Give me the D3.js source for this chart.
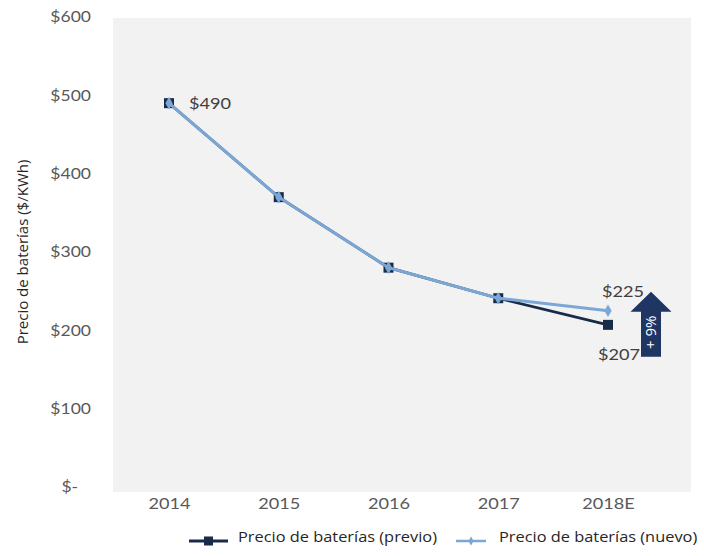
<!DOCTYPE html>
<html>
<head>
<meta charset="utf-8">
<script src="https://cdn.jsdelivr.net/npm/d3@7"></script>
<style>
  html, body { margin: 0; padding: 0; background: #fff; }
  svg { display: block; font-family: "Open Sans", "Noto Sans", sans-serif; }
</style>
</head>
<body>
<svg id="chart" width="704" height="556"></svg>
<script>
// Battery pack price, USD per kWh
const years = ["2014", "2015", "2016", "2017", "2018E"];
const previo = [490, 370, 280, 241, 207];
const nuevo  = [490, 370, 280, 241, 225];
const yTicks = [0, 100, 200, 300, 400, 500, 600];
const seriesNames = ["Precio de baterías (previo)", "Precio de baterías (nuevo)"];
const yTitle = "Precio de baterías ($/KWh)";
const changeLabel = "+ 9%";

// horizontal text is drawn slightly widened
const STRETCH = "scale(1.17,1)";

const svg = d3.select("#chart");

const x = d3.scalePoint().domain(years).range([169, 608]);
const y = d3.scaleLinear().domain([0, 600]).range([487, 17]);

// plot background
svg.append("rect")
  .attr("x", 113).attr("y", 18)
  .attr("width", 578).attr("height", 474)
  .attr("fill", "#f2f2f2");

// y axis labels
const yAxis = svg.append("g")
  .attr("transform", "translate(91,0)")
  .call(d3.axisLeft(y).tickValues(yTicks).tickSize(0).tickPadding(0)
    .tickFormat(d => d === 0 ? "$-" : "$" + d));
yAxis.select(".domain").remove();
yAxis.selectAll("text")
  .attr("fill", "#595959").style("font-size", "15px")
  .style("font-family", "Lato, 'Open Sans', sans-serif")
  .attr("dx", d => d === 0 ? -11 : 0)
  .attr("transform", STRETCH);

// x axis labels
const xAxis = svg.append("g")
  .attr("transform", "translate(0,493)")
  .call(d3.axisBottom(x).tickSize(0).tickPadding(5));
xAxis.select(".domain").remove();
xAxis.selectAll("text")
  .attr("fill", "#595959").style("font-size", "15.5px")
  .style("font-family", "Lato, 'Open Sans', sans-serif")
  .attr("transform", STRETCH);

// y axis title
svg.append("text")
  .attr("transform", "translate(28,252) rotate(-90)")
  .attr("text-anchor", "middle")
  .attr("fill", "#262626")
  .style("font-size", "15px")
  .text(yTitle);

const line = d3.line().x((d, i) => x(years[i])).y(d => y(d));

const darkCol = "#1a2b49";
const lightCol = "#7ba7d7";

// previous estimate
svg.append("path").datum(previo)
  .attr("d", line).attr("fill", "none")
  .attr("stroke", darkCol).attr("stroke-width", 2.7);
svg.selectAll(".sq").data(previo).join("rect")
  .attr("x", (d, i) => x(years[i]) - 5)
  .attr("y", d => y(d) - 5)
  .attr("width", 10).attr("height", 10)
  .attr("fill", darkCol);

// new estimate
svg.append("path").datum(nuevo)
  .attr("d", line).attr("fill", "none")
  .attr("stroke", lightCol).attr("stroke-width", 3);
const diamond = d3.symbol().type(d3.symbolDiamond).size(46);
svg.selectAll(".dm").data(nuevo).join("path")
  .attr("transform", (d, i) => `translate(${x(years[i])},${y(d)})`)
  .attr("d", diamond)
  .attr("fill", lightCol);

// value labels
const lbl = (tx, ty, t) => svg.append("text")
  .attr("transform", `translate(${tx},${ty}) ${STRETCH}`)
  .attr("fill", "#404040")
  .style("font-size", "15.5px")
  .style("font-family", "Lato, 'Open Sans', sans-serif")
  .text(t);
lbl(x("2014") + 20, y(previo[0]) + 6, "$" + previo[0]);
lbl(x("2018E") - 6, y(nuevo[4]) - 14, "$" + nuevo[4]);
lbl(x("2018E") - 10, y(previo[4]) + 35, "$" + previo[4]);

// change arrow
const ax = 651, aTop = y(nuevo[4]) - 19, aBot = y(previo[4]) + 32;
const headH = 20, headW = 20.5, shaftW = 10;
svg.append("path")
  .attr("d", `M${ax},${aTop} L${ax + headW},${aTop + headH} L${ax + shaftW},${aTop + headH}
              L${ax + shaftW},${aBot} L${ax - shaftW},${aBot} L${ax - shaftW},${aTop + headH}
              L${ax - headW},${aTop + headH} Z`)
  .attr("fill", "#1f3563");
svg.append("text")
  .attr("transform", `translate(${ax + 5},${(aTop + headH + aBot) / 2 - 2}) rotate(-90)`)
  .attr("text-anchor", "middle")
  .attr("fill", "#ffffff")
  .style("font-size", "15px")
  .text(changeLabel);

// legend
const leg = svg.append("g").attr("transform", "translate(0,541)");
const items = [
  { name: seriesNames[0], col: darkCol, x0: 189, len: 39, tx: 238, mark: "sq" },
  { name: seriesNames[1], col: lightCol, x0: 456, len: 30, tx: 499, mark: "dm" }
];
items.forEach(it => {
  leg.append("line").attr("x1", it.x0).attr("x2", it.x0 + it.len)
    .attr("y1", 0).attr("y2", 0)
    .attr("stroke", it.col).attr("stroke-width", it.mark === "sq" ? 3 : 2.5);
  const cx = it.x0 + it.len / 2;
  if (it.mark === "sq") {
    leg.append("rect").attr("x", cx - 4.5).attr("y", -4.5)
      .attr("width", 9).attr("height", 9).attr("fill", it.col);
  } else {
    leg.append("path").attr("transform", `translate(${cx},0)`)
      .attr("d", d3.symbol().type(d3.symbolDiamond).size(24)).attr("fill", it.col);
  }
  leg.append("text")
    .attr("transform", `translate(${it.tx},0) ${STRETCH}`)
    .attr("dy", "0.05em")
    .attr("fill", "#262626").style("font-size", "14px")
    .text(it.name);
});
</script>
</body>
</html>
